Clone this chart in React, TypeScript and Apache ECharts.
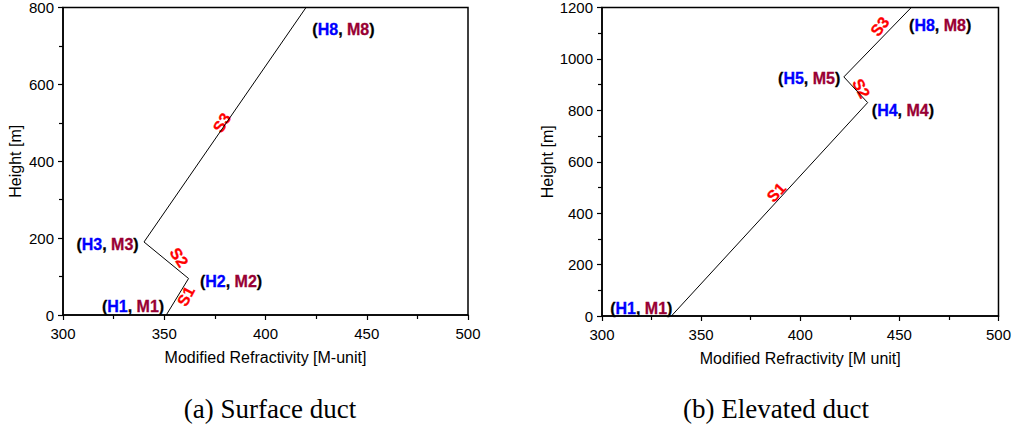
import React, { useEffect, useRef } from "react";
import * as echarts from "echarts";

// ---- data ----
const surfaceProfile: [number, number][] = [
  [351, 0],
  [362, 95],
  [340, 190],
  [420, 800],
];
const elevatedProfile: [number, number][] = [
  [335, 0],
  [434, 830],
  [422, 930],
  [456, 1200],
];
// point labels: [x, y, index]
const surfacePointLabels: [number, number, string][] = [
  [334.6, 23, "1"],
  [383, 88, "2"],
  [322, 184, "3"],
  [438.5, 743, "8"],
];
const elevatedPointLabels: [number, number, string][] = [
  [319.8, 31, "1"],
  [451.8, 800, "4"],
  [404.5, 924, "5"],
  [470.6, 1130, "8"],
];
// segment labels: [x, y, text, rotation deg]
const surfaceSegLabels: [number, number, string, number][] = [
  [360.7, 49, "S1", 62],
  [357.3, 150, "S2", -57],
  [378.5, 500, "S3", 58],
];
const elevatedSegLabels: [number, number, string, number][] = [
  [388, 481, "S1", 47],
  [430.7, 885, "S2", -62],
  [440.2, 1126, "S3", 52],
];
const xTicks = { min: 300, max: 500, interval: 50 };
const surfaceY = { min: 0, max: 800, interval: 200 };
const elevatedY = { min: 0, max: 1200, interval: 200 };
const captions = ["(a) Surface duct", "(b) Elevated duct"];
const xTitles = ["Modified Refractivity [M-unit]", "Modified Refractivity [M unit]"];
const yTitle = "Height [m]";

const SANS = "'Liberation Sans', Arial, sans-serif";
const SERIF = "'Liberation Serif', 'Times New Roman', serif";

export default function App() {
  const ref = useRef<HTMLDivElement>(null);
  useEffect(() => {
    document.body.style.margin = "0";
    if (!ref.current) return;
    const chart = echarts.init(ref.current, null, { renderer: "svg" });

    const xAxis = (gridIndex: number, name: string) => ({
      type: "value",
      gridIndex,
      ...xTicks,
      name,
      nameLocation: "middle",
      nameGap: 34,
      nameTextStyle: { fontFamily: SANS, fontSize: 16, color: "#000" },
      axisLine: { show: true, lineStyle: { color: "#000", width: 1.5 } },
      axisTick: { show: true, length: 5, lineStyle: { color: "#000", width: 1.2 } },
      minorTick: { show: true, splitNumber: 2, length: 4, lineStyle: { color: "#000", width: 1.2 } },
      splitLine: { show: false },
      axisLabel: { fontFamily: SANS, fontSize: 15, color: "#000", margin: 11 },
    });
    const yAxis = (gridIndex: number, r: any) => ({
      type: "value",
      gridIndex,
      ...r,
      name: yTitle,
      nameLocation: "middle",
      nameGap: 40,
      nameTextStyle: { fontFamily: SANS, fontSize: 16, color: "#000" },
      axisLine: { show: true, lineStyle: { color: "#000", width: 1.5 } },
      axisTick: { show: true, length: 5, lineStyle: { color: "#000", width: 1.2 } },
      minorTick: { show: true, splitNumber: 2, length: 4, lineStyle: { color: "#000", width: 1.2 } },
      splitLine: { show: false },
      axisLabel: {
        fontFamily: SANS,
        fontSize: 15,
        color: "#000",
        margin: 9,
        formatter: (v: number) => String(v),
      },
    });

    const base = { fontWeight: 700, fontSize: 16, fontFamily: SANS };
    const rich = {
      p: { ...base, color: "#000000", textBorderColor: "#000000", textBorderWidth: 0.3 },
      h: { ...base, color: "#0000ff", textBorderColor: "#0000ff", textBorderWidth: 0.3 },
      m: { ...base, color: "#990033", textBorderColor: "#990033", textBorderWidth: 0.3 },
    };

    const pointSeries = (idx: number, pts: [number, number, string][]) => ({
      type: "scatter",
      xAxisIndex: idx,
      yAxisIndex: idx,
      symbolSize: 1,
      itemStyle: { color: "#ffffff", opacity: 0 },
      silent: true,
      clip: false,
      data: pts.map((p) => ({ value: [p[0], p[1]], name: p[2] })),
      label: {
        show: true,
        position: "inside",
        opacity: 1,
        color: "#000",
        fontWeight: 700,
        fontSize: 16,
        fontFamily: SANS,
        formatter: (d: any) => `{p|(}{h|H${d.name}}{p|, }{m|M${d.name}}{p|)}`,
        rich,
      },
    });
    const segSeries = (idx: number, segs: [number, number, string, number][]) => ({
      type: "scatter",
      xAxisIndex: idx,
      yAxisIndex: idx,
      symbolSize: 1,
      itemStyle: { color: "#ffffff", opacity: 0 },
      silent: true,
      clip: false,
      data: segs.map((s) => ({
        value: [s[0], s[1]],
        name: s[2],
        label: { rotate: s[3] },
      })),
      label: {
        show: true,
        position: "inside",
        opacity: 1,
        textBorderColor: "#ff0000",
        textBorderWidth: 0.3,
        formatter: "{b}",
        color: "#ff0000",
        fontWeight: 700,
        fontSize: 16,
        fontFamily: SANS,
      },
    });
    const lineSeries = (idx: number, data: [number, number][]) => ({
      type: "line",
      xAxisIndex: idx,
      yAxisIndex: idx,
      data,
      showSymbol: false,
      symbol: "none",
      lineStyle: { color: "#000", width: 1 },
      silent: true,
    });

    chart.setOption({
      animation: false,
      backgroundColor: "#fff",
      grid: [
        { left: 63, top: 6, width: 405, height: 309, show: true, borderColor: "#000", borderWidth: 1.5 },
        { left: 602, top: 7, width: 398, height: 309, show: true, borderColor: "#000", borderWidth: 1.5 },
      ],
      xAxis: [xAxis(0, xTitles[0]), xAxis(1, xTitles[1])],
      yAxis: [yAxis(0, surfaceY), yAxis(1, elevatedY)],
      series: [
        lineSeries(0, surfaceProfile),
        lineSeries(1, elevatedProfile),
        pointSeries(0, surfacePointLabels),
        pointSeries(1, elevatedPointLabels),
        segSeries(0, surfaceSegLabels),
        segSeries(1, elevatedSegLabels),
      ],
      graphic: [
        {
          type: "text",
          x: 270,
          y: 409,
          style: { text: captions[0], font: `27px ${SERIF}`, fill: "#000", align: "center", verticalAlign: "middle" },
        },
        {
          type: "text",
          x: 776,
          y: 409,
          style: { text: captions[1], font: `27px ${SERIF}`, fill: "#000", align: "center", verticalAlign: "middle" },
        },
      ],
    });
    return () => chart.dispose();
  }, []);
  return <div ref={ref} style={{ width: 1014, height: 429 }} />;
}
